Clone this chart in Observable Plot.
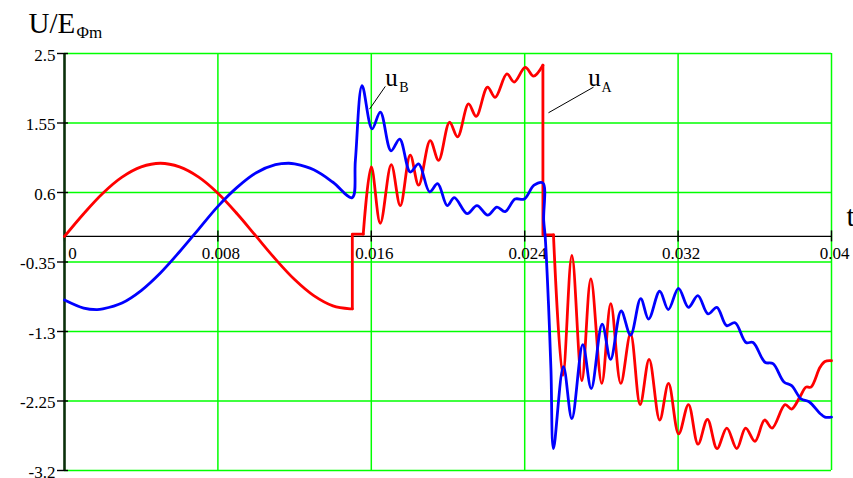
<!DOCTYPE html>
<html><head><meta charset="utf-8">
<script src="https://cdn.jsdelivr.net/npm/d3@7"></script>
<script src="https://cdn.jsdelivr.net/npm/@observablehq/plot@0.6"></script>
<style>html,body{margin:0;padding:0;background:#fff;overflow:hidden}</style>
</head><body><div id="chart"></div>
<script>
const xTicks = [0, 0.008, 0.016, 0.024, 0.032, 0.04];
const yTicks = [2.5, 1.55, 0.6, -0.35, -1.3, -2.25, -3.2];

// u_A (red)
const tA = [0, 0.001, 0.002, 0.003, 0.004, 0.005, 0.006, 0.007, 0.008, 0.009, 0.010, 0.011, 0.012, 0.013, 0.014, 0.0149,
  0.01501, 0.01501, 0.01558,
  0.0160, 0.01647, 0.01704, 0.01751, 0.01803, 0.01847, 0.01907, 0.01951, 0.02008, 0.0205, 0.02107, 0.02147, 0.02206, 0.02246, 0.02307, 0.02345, 0.02403, 0.02446, 0.02495,
  0.02495, 0.0255,
  0.02599, 0.02646, 0.02698, 0.02745, 0.02802, 0.02849, 0.02901, 0.02952, 0.03002, 0.03049, 0.03104, 0.0315, 0.03203, 0.03254, 0.03304, 0.03353, 0.03403, 0.03454, 0.03506, 0.03552, 0.03601, 0.03651, 0.0369, 0.03758, 0.03792, 0.03836, 0.03867, 0.03893, 0.0394, 0.03966, 0.04];
const uA = [0, 0.31, 0.59, 0.81, 0.95, 1.0, 0.95, 0.81, 0.59, 0.31, 0, -0.31, -0.59, -0.81, -0.95, -0.99,
  -0.99, 0.03, 0.03,
  0.95, 0.18, 0.98, 0.42, 1.11, 0.70, 1.31, 1.04, 1.56, 1.36, 1.81, 1.64, 2.04, 1.90, 2.22, 2.11, 2.31, 2.19, 2.34,
  0.02, 0.02,
  -1.90, -0.26, -1.97, -0.58, -2.01, -0.92, -2.01, -1.33, -2.30, -1.68, -2.51, -2.01, -2.70, -2.30, -2.84, -2.50, -2.90, -2.62, -2.90, -2.62, -2.80, -2.51, -2.62, -2.30, -2.36, -2.19, -2.06, -2.06, -1.79, -1.71, -1.70];

// u_B (blue)
const tB = [0, 0.001, 0.0017, 0.002, 0.003, 0.004, 0.005, 0.006, 0.007, 0.008, 0.009, 0.010, 0.011, 0.0117, 0.012, 0.013, 0.014, 0.0150,
  0.01517, 0.01552,
  0.01604, 0.01647, 0.01703, 0.01748, 0.01803, 0.01847, 0.01904, 0.01946, 0.01996, 0.02033, 0.021, 0.02151, 0.02207, 0.02255, 0.02298,
  0.0235, 0.02397, 0.02449, 0.02495,
  0.02499, 0.02507, 0.02524, 0.02537, 0.0255,
  0.02602, 0.02646, 0.02703, 0.02747, 0.02804, 0.02848, 0.02903, 0.02952, 0.03005, 0.03046, 0.03104, 0.03149, 0.03202, 0.03254, 0.03303, 0.03356, 0.03402, 0.03453, 0.03497,
  0.03554, 0.03591, 0.03653, 0.03695, 0.03752, 0.03792, 0.03841, 0.03883, 0.0394, 0.03966, 0.04];
const uB = [-0.87, -0.98, -1.0, -0.99, -0.91, -0.74, -0.5, -0.21, 0.10, 0.41, 0.67, 0.87, 0.98, 1.0, 0.99, 0.91, 0.74, 0.53,
  1.04, 2.06,
  1.47, 1.70, 1.17, 1.33, 0.88, 0.99, 0.61, 0.72, 0.42, 0.53, 0.31, 0.42, 0.29, 0.40, 0.34,
  0.51, 0.51, 0.70, 0.73,
  0.22, -0.01, -0.92, -1.83, -2.90,
  -1.78, -2.49, -1.48, -2.08, -1.20, -1.68, -1.02, -1.35, -0.85, -1.13, -0.75, -1.0, -0.71, -0.97, -0.81, -1.06, -0.97, -1.22, -1.18,
  -1.45, -1.45, -1.72, -1.74, -1.99, -2.04, -2.22, -2.26, -2.42, -2.47, -2.47];

// split a series into smooth pieces and straight jump pieces (where t repeats)
function pieces(ts, vs) {
  const pts = ts.map((t, i) => ({t, v: vs[i]}));
  const out = [];
  let s = 0;
  for (let i = 1; i < pts.length; i++) {
    if (pts[i].t === pts[i - 1].t) {
      out.push({smooth: true, pts: pts.slice(s, i)});          // up to i-1
      out.push({smooth: false, pts: pts.slice(i - 1, i + 2)}); // i-1 .. i+1
      s = i + 1;
    }
  }
  out.push({smooth: true, pts: pts.slice(s)});
  return out;
}

const serif = "'Liberation Serif','Times New Roman',serif";

function seriesMarks(ts, vs, color) {
  return pieces(ts, vs).map(p => Plot.line(p.pts, {
    x: "t", y: "v", stroke: color, strokeWidth: 2.8,
    curve: p.smooth ? "catmull-rom" : "linear", strokeLinejoin: "round", strokeLinecap: "round"
  }));
}

const txt = (data, opts) => Plot.text(data, {fontFamily: serif, fill: "black", ...opts});

const chart = Plot.plot({
  width: 853, height: 478,
  marginLeft: 64, marginRight: 22, marginTop: 53, marginBottom: 8,
  x: {domain: [0, 0.04], axis: null},
  y: {domain: [-3.2, 2.5], axis: null},
  style: {fontFamily: serif, background: "white", color: "black", overflow: "visible"},
  marks: [
    Plot.ruleY(yTicks, {stroke: "#00ff00", strokeWidth: 1.5}),
    Plot.ruleX(xTicks.filter(d => d > 0), {stroke: "#00ff00", strokeWidth: 1.5}),
    Plot.ruleY([0], {stroke: "black", strokeWidth: 1.4}),
    Plot.ruleX(xTicks, {y1: -0.075, y2: 0.075, stroke: "black", strokeWidth: 1.4}),
    Plot.ruleX([0], {stroke: "#0b300b", strokeWidth: 2.6}),
    Plot.ruleY(yTicks, {x1: -0.000365, x2: 0.00021, stroke: "black", strokeWidth: 1.4}),
    txt(yTicks, {x: 0, y: d => d, text: d => String(d), textAnchor: "end", dx: -9, dy: 2, fontSize: 17}),
    txt(xTicks.filter(d => d === 0), {x: d => d, y: 0, text: d => String(d), dx: 8, dy: 17, fontSize: 17}),
    txt(xTicks.filter(d => d > 0), {x: d => d, y: 0, text: d => String(d), dx: 3, dy: 17, fontSize: 17}),
    ...seriesMarks(tA, uA, "#ff0000"),
    ...seriesMarks(tB, uB, "#0000ff"),
    // leader lines
    Plot.link([0], {x1: 0.01673, y1: 2.05, x2: 0.01591, y2: 1.74, stroke: "black", strokeWidth: 1}),
    Plot.link([0], {x1: 0.02759, y1: 2.04, x2: 0.02524, y2: 1.69, stroke: "black", strokeWidth: 1}),
    // series labels
    txt(["u"], {x: 0.01673, y: 2.06, textAnchor: "start", lineAnchor: "bottom", fontSize: 25}),
    txt(["B"], {x: 0.01746, y: 1.97, textAnchor: "start", lineAnchor: "bottom", fontSize: 14}),
    txt(["u"], {x: 0.02731, y: 2.06, textAnchor: "start", lineAnchor: "bottom", fontSize: 25}),
    txt(["A"], {x: 0.02801, y: 1.97, textAnchor: "start", lineAnchor: "bottom", fontSize: 14}),
    // axis titles
    txt(["U/E"], {frameAnchor: "top-left", dx: -36, dy: -21, textAnchor: "start", lineAnchor: "bottom", fontSize: 29}),
    txt(["Φm"], {frameAnchor: "top-left", dx: 12, dy: -16, textAnchor: "start", lineAnchor: "bottom", fontSize: 17}),
    txt(["t"], {frameAnchor: "top-right", dx: 15, dy: 172, textAnchor: "start", lineAnchor: "bottom", fontSize: 29})
  ]
});
document.getElementById("chart").appendChild(chart);
</script>
</body></html>
